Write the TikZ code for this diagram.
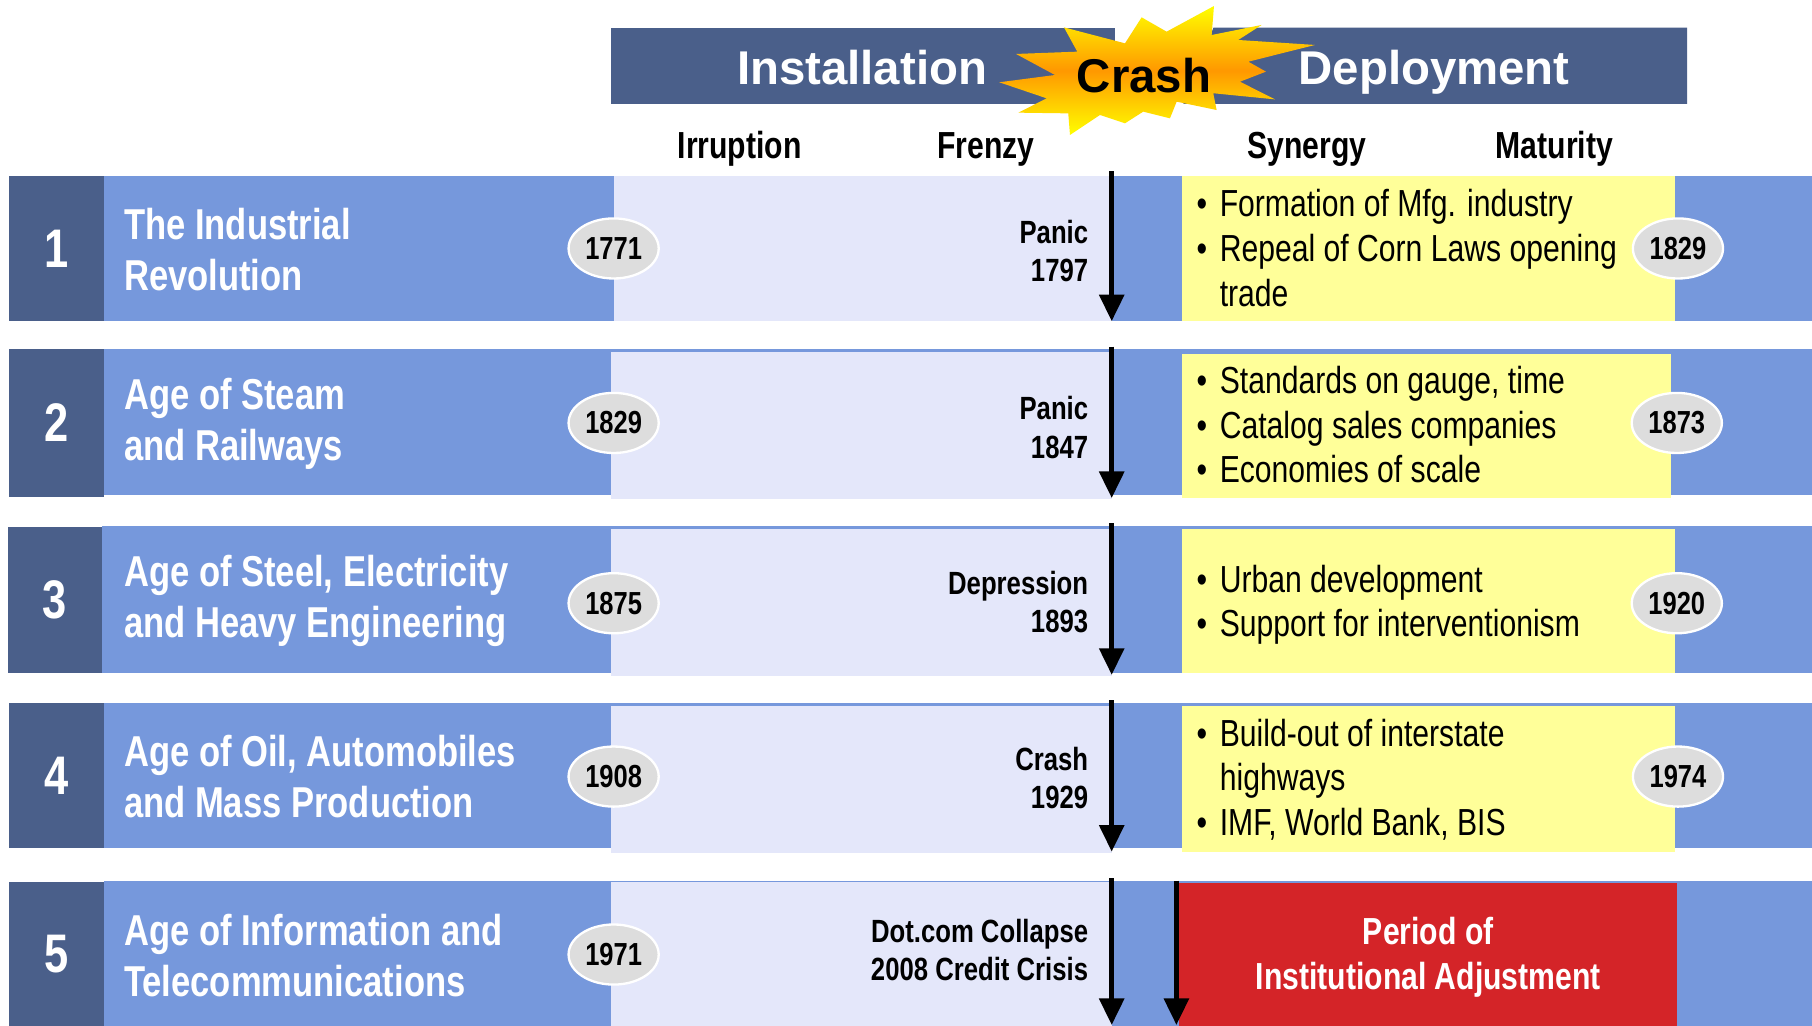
\documentclass[tikz,border=0pt]{standalone}
\usepackage{fontspec}
\setmainfont{Liberation Sans}
\newfontfamily\nar[FakeStretch=0.8]{Liberation Sans}
\usetikzlibrary{arrows.meta,shapes.geometric}
\definecolor{hdr}{RGB}{74,95,138}
\definecolor{band}{RGB}{118,152,220}
\definecolor{lav}{RGB}{228,231,250}
\definecolor{ylw}{RGB}{255,255,153}
\definecolor{redbox}{RGB}{212,36,40}
\definecolor{oval}{RGB}{221,221,221}
\definecolor{burstY}{RGB}{255,255,0}
\definecolor{burstO}{RGB}{255,152,0}
\begin{document}
\begin{tikzpicture}[x=0.5pt,y=-0.5pt,
  hdrtext/.style={anchor=base,text=white,font=\bfseries\fontsize{20.5}{24}\selectfont,inner sep=0},
  phase/.style={anchor=base,font=\nar\bfseries\fontsize{16.3}{19}\selectfont,inner sep=0},
  numbox/.style={fill=hdr,text=white,minimum width=41pt,minimum height=63pt,inner sep=0,
    font=\nar\bfseries\fontsize{23.5}{26}\selectfont},
  eratitle/.style={anchor=west,align=left,text=white,inner sep=0,
    font=\nar\bfseries\fontsize{18.7}{22}\selectfont},
  yr/.style={ellipse,fill=oval,draw=white,line width=1pt,minimum width=39pt,minimum height=26pt,
    inner sep=0,font=\nar\bfseries\fontsize{13.8}{15}\selectfont},
  crisis/.style={anchor=east,align=right,inner sep=0,font=\nar\bfseries\fontsize{13.9}{16.5}\selectfont},
  bullets/.style={anchor=west,inner sep=0,font=\nar\fontsize{16.3}{19.3}\selectfont},
  crasharrow/.style={line width=2.2pt,-{Triangle[width=10.5pt,length=11.5pt]}},
]
\useasboundingbox (0,0) rectangle (1568,887);
\fill[white] (0,0) rectangle (1568,887);

% ---------- header ----------
\fill[hdr] (529,24) rectangle (965,90);
\fill[hdr] (1050,24) -- (1460,24) -- (1460,90) -- (1024,90) -- cycle;
\node[hdrtext] (inst) at (746,73) {Installation};
\node[hdrtext] (depl) at (1241,73) {Deployment};
\shade[top color=burstY,bottom color=burstY,middle color=burstO]
  (1050.5,5.2) -- (1009.5,27.4) -- (987.9,15) -- (973.5,37.5) -- (920.7,23.7) -- (932.2,44.7)
  -- (879.2,46.7) -- (912.9,64.9) -- (864.7,71.2) -- (905.7,85.1) -- (881.2,97.5) -- (924.4,98.1)
  -- (925.9,116.8) -- (951.8,99.5) -- (973.5,106.7) -- (989.3,96.6) -- (1012.4,102.4) -- (1018.2,88)
  -- (1052.8,95.2) -- (1049.9,80.7) -- (1103.3,86) -- (1073,70.7) -- (1095.5,62) -- (1080.2,53.4)
  -- (1137.9,38.9) -- (1071.5,34.6) -- (1091.7,21.6) -- (1048.5,30.3) -- cycle;
\node[hdrtext,text=black] (crash) at (990,80) {Crash};

\node[phase] (irr) at (640,137) {Irruption};
\node[phase] (fre) at (853,137) {Frenzy};
\node[phase] (syn) at (1131,137) {Synergy};
\node[phase] (mat) at (1345,137) {Maturity};

% ---------- row 1 ----------
\fill[band] (90,152) rectangle (1568,278);
\node[numbox] (num1) at (49,215) {1};
\fill[lav] (531,152) rectangle (962,278);
\node[eratitle] (title1) at (107,216) {The Industrial\\Revolution};
\node[yr] (start1) at (531,215) {1771};
\node[crisis] (crisis1) at (942,217) {Panic\\1797};
\fill[ylw] (1023,152) rectangle (1449,278);
\node[bullets] (bul1) at (1035,218.5) {\begin{tabular}{@{}l@{\hspace{5.5pt}}l@{}}•&Formation of Mfg. industry\\•&Repeal of Corn Laws opening\\&trade\end{tabular}};
\node[yr] (end1) at (1452,215) {1829};
\coordinate (a1s) at (962,148);
\coordinate (a1e) at (962,278);
\draw[crasharrow] (a1s) -- (a1e);

% ---------- row 2 ----------
\fill[band] (90,302) rectangle (1568,428);
\node[numbox,minimum height=64pt] (num2) at (49,366) {2};
\fill[lav] (529,305) rectangle (962,432);
\node[eratitle] (title2) at (107,367) {Age of Steam\\and Railways};
\node[yr] (start2) at (531,366) {1829};
\node[crisis] (crisis2) at (942,370) {Panic\\1847};
\fill[ylw] (1023,306) rectangle (1446,431);
\node[bullets] (bul2) at (1035,371.5) {\begin{tabular}{@{}l@{\hspace{5.5pt}}l@{}}•&Standards on gauge, time\\•&Catalog sales companies\\•&Economies of scale\end{tabular}};
\node[yr] (end2) at (1451,366) {1873};
\coordinate (a2s) at (962,300);
\coordinate (a2e) at (962,431);
\draw[crasharrow] (a2s) -- (a2e);

% ---------- row 3 ----------
\fill[band] (88,455) rectangle (1568,582);
\node[numbox,minimum width=40.5pt] (num3) at (47.5,519) {3};
\fill[lav] (529,458) rectangle (962,585);
\node[eratitle] (title3) at (107,520) {Age of Steel, Electricity\\and Heavy Engineering};
\node[yr] (start3) at (531,522) {1875};
\node[crisis] (crisis3) at (942,521) {Depression\\1893};
\fill[ylw] (1023,458) rectangle (1449,582);
\node[bullets] (bul3) at (1035,524) {\begin{tabular}{@{}l@{\hspace{5.5pt}}l@{}}•&Urban development\\•&Support for interventionism\end{tabular}};
\node[yr] (end3) at (1451,522) {1920};
\coordinate (a3s) at (962,453);
\coordinate (a3e) at (962,584);
\draw[crasharrow] (a3s) -- (a3e);

% ---------- row 4 ----------
\fill[band] (90,608) rectangle (1568,734);
\node[numbox] (num4) at (49,671) {4};
\fill[lav] (529,611) rectangle (962,738);
\node[eratitle] (title4) at (107,672) {Age of Oil, Automobiles\\and Mass Production};
\node[yr] (start4) at (531,672) {1908};
\node[crisis] (crisis4) at (942,673) {Crash\\1929};
\fill[ylw] (1023,611) rectangle (1449,737);
\node[bullets] (bul4) at (1035,676.5) {\begin{tabular}{@{}l@{\hspace{5.5pt}}l@{}}•&Build-out of interstate\\&highways\\•&IMF, World Bank, BIS\end{tabular}};
\node[yr] (end4) at (1452,672) {1974};
\coordinate (a4s) at (962,606);
\coordinate (a4e) at (962,737);
\draw[crasharrow] (a4s) -- (a4e);

% ---------- row 5 ----------
\fill[band] (90,762) rectangle (1568,890);
\node[numbox] (num5) at (49,826) {5};
\fill[lav] (529,763) rectangle (962,890);
\node[eratitle] (title5) at (107,827) {Age of Information and\\Telecommunications};
\node[yr] (start5) at (531,826) {1971};
\node[crisis] (crisis5) at (942,822) {Dot.com Collapse\\2008 Credit Crisis};
\node[fill=redbox,minimum width=215.5pt,minimum height=64pt,inner sep=0,anchor=north west,
  text=white,align=center,font=\nar\bfseries\fontsize{16.3}{19.5}\selectfont] (adj) at (1020,764)
  {Period of\\Institutional Adjustment};
\coordinate (a5s) at (962,760);
\coordinate (a5e) at (962,887);
\draw[crasharrow] (a5s) -- (a5e);
\coordinate (b5s) at (1018,762);
\coordinate (b5e) at (1018,887);
\draw[crasharrow] (b5s) -- (b5e);
\end{tikzpicture}
\end{document}
